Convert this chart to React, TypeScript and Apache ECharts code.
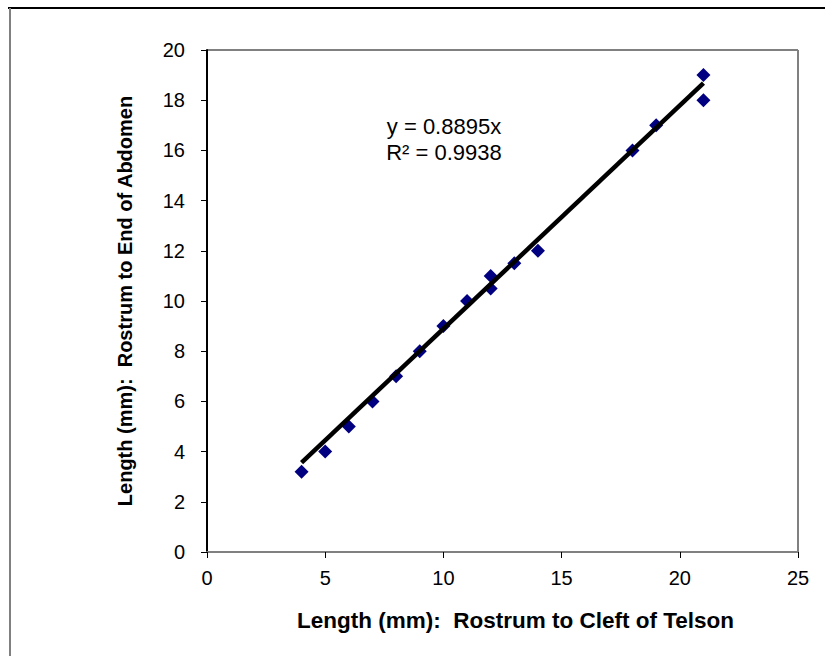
import React, { useEffect, useRef } from "react";
import * as echarts from "echarts";

const xValues = [4, 5, 6, 7, 8, 9, 10, 11, 12, 12, 13, 14, 18, 19, 21, 21];
const yValues = [3.2, 4, 5, 6, 7, 8, 9, 10, 11, 10.5, 11.5, 12, 16, 17, 19, 18];
const slope = 0.8895;
const trendX = [4, 21];
const equationLines = ["y = 0.8895x", "R² = 0.9938"];
const xAxisTitle = "Length (mm):  Rostrum to Cleft of Telson";
const yAxisTitle = "Length (mm):  Rostrum to End of Abdomen";

export default function App() {
  const ref = useRef<HTMLDivElement>(null);
  useEffect(() => {
    if (!ref.current) return;
    const chart = echarts.init(ref.current, null, { renderer: "svg" });
    const font = "Arial, 'Liberation Sans', sans-serif";
    chart.setOption({
      animation: false,
      backgroundColor: "#ffffff",
      grid: { left: 207, right: 27, top: 50, bottom: 104, show: false },
      xAxis: {
        type: "value",
        min: 0,
        max: 25,
        interval: 5,
        splitLine: { show: false },
        axisLine: { show: true, onZero: false, lineStyle: { color: "#808080", width: 2 } },
        axisTick: { show: true, inside: false, length: 6, lineStyle: { color: "#000", width: 1 } },
        axisLabel: { color: "#000", fontSize: 20, fontFamily: font, margin: 16 },
        name: xAxisTitle,
        nameLocation: "middle",
        nameGap: 57,
        nameTextStyle: {
          color: "#000",
          fontSize: 22.5,
          fontWeight: "bold",
          fontFamily: font,
          padding: [0, 0, 0, 26],
        },
      },
      yAxis: {
        type: "value",
        min: 0,
        max: 20,
        interval: 2,
        splitLine: { show: false },
        axisLine: { show: true, onZero: false, lineStyle: { color: "#000", width: 2 } },
        axisTick: { show: true, inside: false, length: 6, lineStyle: { color: "#000", width: 1 } },
        axisLabel: { color: "#000", fontSize: 20, fontFamily: font, margin: 22 },
        name: yAxisTitle,
        nameLocation: "middle",
        nameGap: 72,
        nameRotate: 90,
        nameTextStyle: { color: "#000", fontSize: 20, fontWeight: "bold", fontFamily: font },
      },
      graphic: [
        { type: "line", shape: { x1: 0, y1: 0, x2: 817, y2: 0 }, x: 8, y: 8, style: { stroke: "#000", lineWidth: 2 } },
        { type: "line", shape: { x1: 0, y1: 0, x2: 0, y2: 648 }, x: 10, y: 8, style: { stroke: "#808080", lineWidth: 2 } },
        { type: "line", shape: { x1: 0, y1: 0, x2: 591, y2: 0 }, x: 207, y: 50, style: { stroke: "#808080", lineWidth: 2 } },
        { type: "line", shape: { x1: 0, y1: 0, x2: 0, y2: 502 }, x: 798, y: 50, style: { stroke: "#808080", lineWidth: 2 } },
        {
          type: "text",
          x: 444,
          y: 113,
          style: {
            text: equationLines.join("\n"),
            fill: "#000",
            font: `22px ${font}`,
            align: "center",
            verticalAlign: "top",
            lineHeight: 26,
          },
        },
      ],
      series: [
        {
          type: "line",
          data: trendX.map((x) => [x, slope * x]),
          symbol: "none",
          lineStyle: { color: "#000", width: 4.5 },
          z: 3,
        },
        {
          type: "scatter",
          data: xValues.map((x, i) => [x, yValues[i]]),
          symbol: "diamond",
          symbolSize: [14, 14],
          itemStyle: { color: "#000080", opacity: 1 },
          z: 2,
        },
      ],
    });
    return () => chart.dispose();
  }, []);
  return (
    <div
      ref={ref}
      style={{ position: "absolute", left: 0, top: 0, width: 825, height: 656 }}
    />
  );
}
